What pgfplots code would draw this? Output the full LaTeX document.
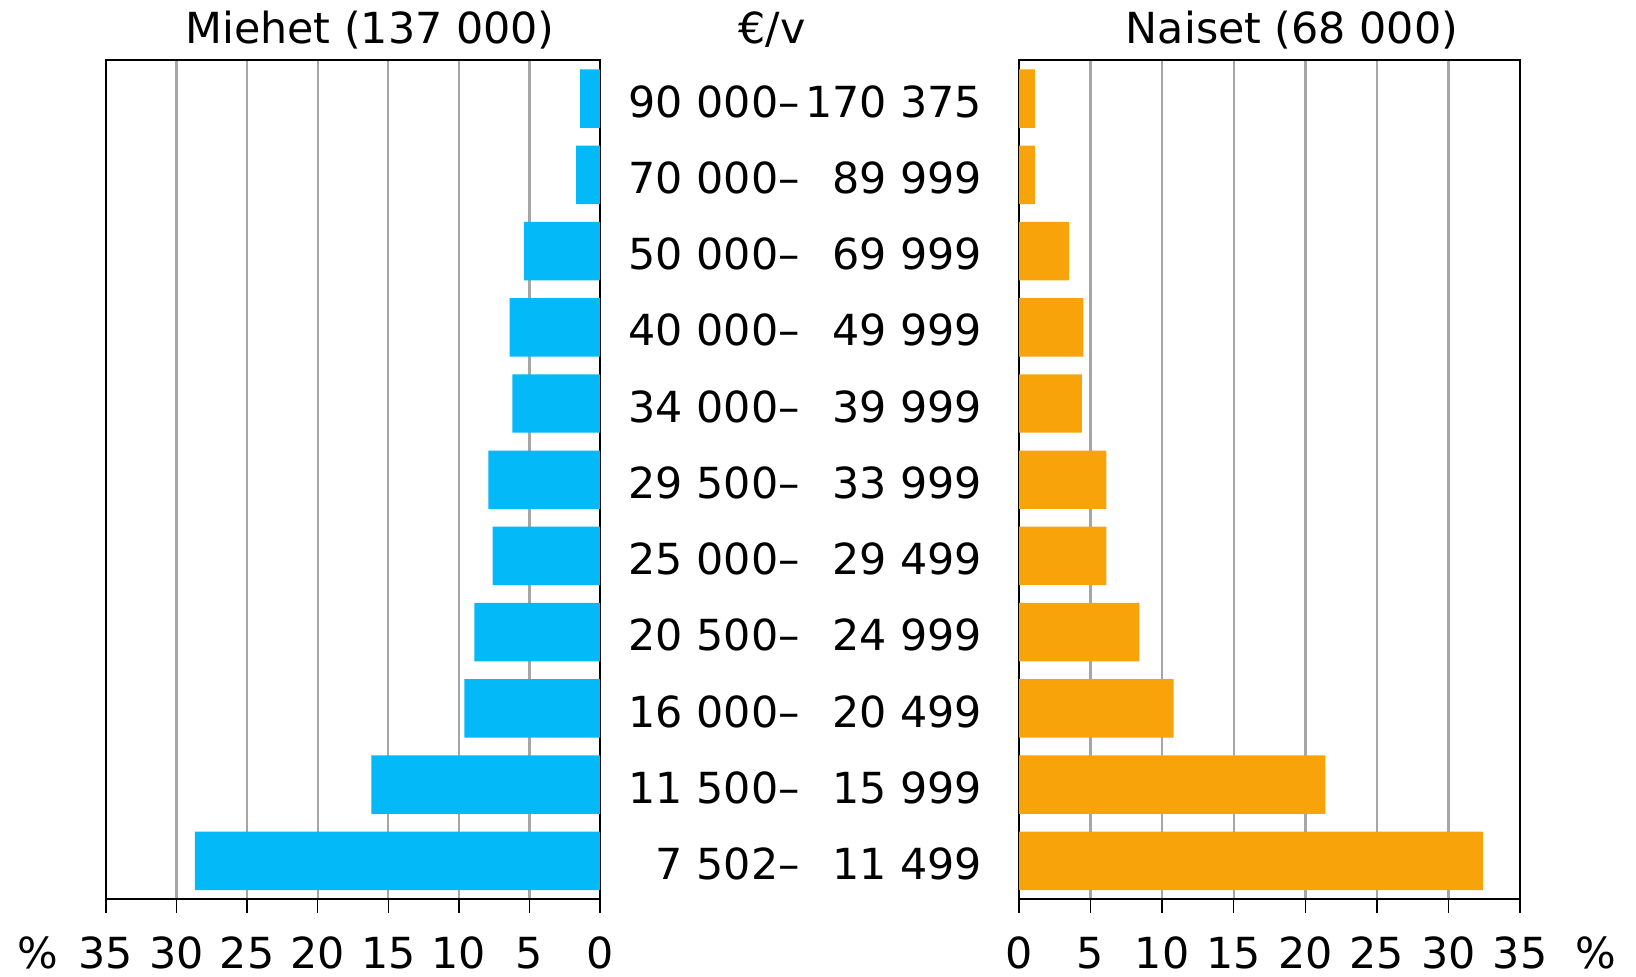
\documentclass[border=0pt]{standalone}
\usepackage{fontspec}
\setmainfont{DejaVu Sans}
\usepackage{pgfplots}
\usepackage{pgfplotstable}
\pgfplotsset{compat=1.18}
\definecolor{mblue}{RGB}{3,185,248}
\definecolor{forange}{RGB}{249,163,11}
\definecolor{gridgray}{RGB}{166,166,166}
\newcommand\F{\fontsize{21.4}{25.7}\selectfont}
\newcommand\lab[2]{\makebox[3.5em][r]{#1}–\makebox[4.26em][r]{#2}}

\pgfplotstableread{
y men women
0 28.7 32.4
1 16.2 21.4
2 9.6 10.8
3 8.9 8.4
4 7.6 6.1
5 7.9 6.1
6 6.2 4.4
7 6.4 4.5
8 5.4 3.5
9 1.7 1.1
10 1.4 1.1
}\data

\pgfplotsset{
  pyr/.style={
    scale only axis,
    height=419.25pt,
    xmin=0, xmax=35, ymin=-0.5, ymax=10.5,
    xbar, bar width=0.767,
    xtick={0,5,...,35}, xticklabels={0,5,10,15,20,25,30,35},
    xtick pos=left, tick align=outside, major tick length=7pt,
    xmajorgrids, grid style={gridgray, line width=1.2pt},
    axis line style={black, line width=1pt},
    tick style={black, line width=0.7pt},
    xticklabel style={font=\F, anchor=base, inner sep=0pt, yshift=-27.6pt},
  }
}

\begin{document}
\begin{tikzpicture}[font=\F]
\useasboundingbox (0,0) rectangle (818pt,488.5pt);
\begin{axis}[pyr, at={(53pt,39pt)}, anchor=south west, width=247pt,
  x dir=reverse, ytick=\empty]
\addplot[fill=mblue, draw=none] table[x=men, y=y] {\data};
\end{axis}
\begin{axis}[pyr, at={(509.5pt,39pt)}, anchor=south west, width=250.5pt,
  ytick={0,...,10}, ytick pos=left, ytick style={draw=none},
  yticklabels={{\lab{7 502}{11 499}},{\lab{11 500}{15 999}},{\lab{16 000}{20 499}},
    {\lab{20 500}{24 999}},{\lab{25 000}{29 499}},{\lab{29 500}{33 999}},
    {\lab{34 000}{39 999}},{\lab{40 000}{49 999}},{\lab{50 000}{69 999}},
    {\lab{70 000}{89 999}},{\lab{90 000}{170 375}}},
  yticklabel style={font=\F, anchor=east, inner sep=0pt, xshift=-11.2pt, yshift=-1.5pt}]
\addplot[fill=forange, draw=none] table[x=women, y=y] {\data};
\end{axis}
\node[anchor=base] at (185pt,466.5pt) {Miehet (137 000)};
\node[anchor=base] at (386pt,466.5pt) {€/v};
\node[anchor=base] at (646pt,466.5pt) {Naiset (68 000)};
\node[anchor=base, inner sep=0pt] at (18.8pt,4.2pt) {\%};
\node[anchor=base, inner sep=0pt] at (798pt,4.2pt) {\%};
\end{tikzpicture}
\end{document}
